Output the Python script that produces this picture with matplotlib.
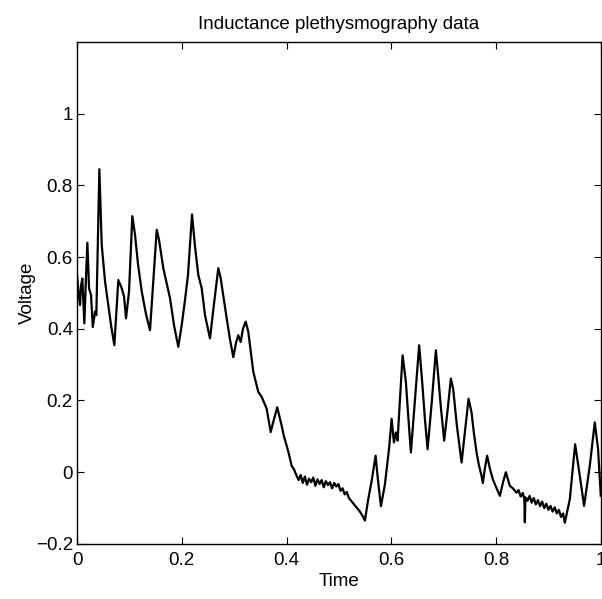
import matplotlib
matplotlib.use('Agg')
import matplotlib.pyplot as plt

plt.rcParams['font.family'] = ['Liberation Sans', 'DejaVu Sans']

# Inductance plethysmography signal (time, voltage)
time = [0.000, 0.0025, 0.0057, 0.0076, 0.0101, 0.0139, 0.0172, 0.0197, 0.0229, 0.0267,
        0.0300, 0.0344, 0.0368, 0.0426, 0.0471, 0.0534, 0.0592, 0.0649, 0.0712, 0.0788,
        0.0853, 0.0897, 0.0935, 0.0992, 0.1055, 0.1107, 0.1164, 0.1235, 0.1317, 0.1393,
        0.1521, 0.1565, 0.1647, 0.1775, 0.1851, 0.1933, 0.1998, 0.2061, 0.2118, 0.2195,
        0.2252, 0.2315, 0.2380, 0.2443, 0.2538, 0.2615, 0.2697, 0.2742, 0.2857, 0.2920,
        0.2983, 0.3034, 0.3078, 0.3124, 0.3168, 0.3219, 0.3269, 0.3321, 0.3365, 0.3416,
        0.3460, 0.3525, 0.3569, 0.3620, 0.3697, 0.3746, 0.3822, 0.3906, 0.3950, 0.4002,
        0.4046, 0.4097, 0.4141, 0.4193,
        0.423, 0.427, 0.431, 0.435, 0.439, 0.443, 0.447, 0.451, 0.455, 0.459,
        0.463, 0.467, 0.471, 0.475, 0.479, 0.483, 0.487, 0.491, 0.495, 0.499,
        0.503, 0.507, 0.511, 0.515, 0.519,
        0.5338, 0.5401, 0.5464, 0.5496, 0.5559, 0.5630, 0.5700, 0.5744, 0.5802, 0.5878,
        0.5960, 0.6006, 0.6050, 0.6088, 0.6120, 0.6164, 0.6216, 0.6279, 0.6317, 0.6374,
        0.6450, 0.6532, 0.6590, 0.6641, 0.6693, 0.6775, 0.6851, 0.6895, 0.6947, 0.7010,
        0.7080, 0.7137, 0.7181, 0.7252, 0.7342, 0.7405, 0.7475, 0.7532, 0.7576, 0.7628,
        0.7672, 0.7723, 0.7748, 0.7786, 0.7830, 0.7882, 0.7939, 0.7996, 0.8073, 0.8130,
        0.8187, 0.8263, 0.8321, 0.8391,
        0.843, 0.847, 0.851, 0.854, 0.855, 0.856, 0.860, 0.864, 0.868, 0.872,
        0.876, 0.880, 0.884, 0.888, 0.892, 0.896, 0.900, 0.904, 0.908, 0.912,
        0.916, 0.920, 0.924, 0.928, 0.9313,
        0.9408, 0.9510, 0.9599, 0.9681, 0.9790, 0.9885, 0.9948, 1.000]

voltage = [0.55, 0.505, 0.466, 0.52, 0.54, 0.415, 0.55, 0.64, 0.513, 0.494,
           0.405, 0.448, 0.438, 0.845, 0.634, 0.532, 0.47, 0.41, 0.354, 0.536,
           0.513, 0.49, 0.429, 0.504, 0.714, 0.662, 0.58, 0.504, 0.44, 0.396,
           0.676, 0.648, 0.569, 0.485, 0.41, 0.35, 0.41, 0.48, 0.55, 0.719,
           0.63, 0.55, 0.513, 0.438, 0.373, 0.47, 0.569, 0.541, 0.429, 0.37,
           0.321, 0.36, 0.382, 0.363, 0.40, 0.42, 0.392, 0.33, 0.28, 0.25,
           0.224, 0.21, 0.195, 0.177, 0.112, 0.14, 0.181, 0.13, 0.10, 0.074,
           0.05, 0.018, 0.008, -0.01,
           -0.022, -0.008, -0.030, -0.012, -0.035, -0.018, -0.028, -0.015, -0.038, -0.020,
           -0.033, -0.022, -0.042, -0.025, -0.036, -0.028, -0.045, -0.030, -0.040, -0.033,
           -0.052, -0.045, -0.062, -0.055, -0.072,
           -0.099, -0.11, -0.125, -0.135, -0.076, -0.02, 0.046, -0.02, -0.095, -0.034,
           0.07, 0.149, 0.083, 0.111, 0.088, 0.2, 0.326, 0.251, 0.17, 0.055,
           0.2, 0.354, 0.251, 0.15, 0.064, 0.2, 0.34, 0.27, 0.18, 0.088,
           0.18, 0.261, 0.233, 0.13, 0.027, 0.11, 0.205, 0.167, 0.11, 0.055,
           0.02, -0.01, -0.03, 0.01, 0.046, 0.01, -0.02, -0.04, -0.066, -0.03,
           0.0, -0.038, -0.045, -0.057,
           -0.050, -0.068, -0.058, -0.075, -0.140, -0.070, -0.080, -0.066, -0.085, -0.072,
           -0.090, -0.078, -0.095, -0.082, -0.100, -0.088, -0.105, -0.094, -0.110, -0.098,
           -0.115, -0.105, -0.125, -0.115, -0.141,
           -0.076, 0.078, -0.01, -0.094, 0.018, 0.139, 0.064, -0.066]

fig = plt.figure(figsize=(6.02, 5.99), dpi=100)
ax = fig.add_axes([0.128, 0.092, 0.870, 0.838])

ax.plot(time, voltage, color='black', linewidth=1.6)

ax.set_xlim(0, 1)
ax.set_ylim(-0.2, 1.2)
ax.set_xticks([0, 0.2, 0.4, 0.6, 0.8, 1])
ax.set_xticklabels(['0', '0.2', '0.4', '0.6', '0.8', '1'])
ax.set_yticks([-0.2, 0, 0.2, 0.4, 0.6, 0.8, 1])
ax.set_yticklabels(['\u22120.2', '0', '0.2', '0.4', '0.6', '0.8', '1'])
ax.tick_params(direction='in', top=True, right=True, length=5, labelsize=13.5)
ax.tick_params(axis='x', pad=6)
ax.tick_params(axis='y', pad=3)
for s in ax.spines.values():
    s.set_linewidth(1.0)

ax.set_xlabel('Time', fontsize=13.5, labelpad=3)
ax.set_ylabel('Voltage', fontsize=13.5, labelpad=0)
ax.set_title('Inductance plethysmography data', fontsize=13.5, pad=9)

plt.savefig('out.png', dpi=100)
